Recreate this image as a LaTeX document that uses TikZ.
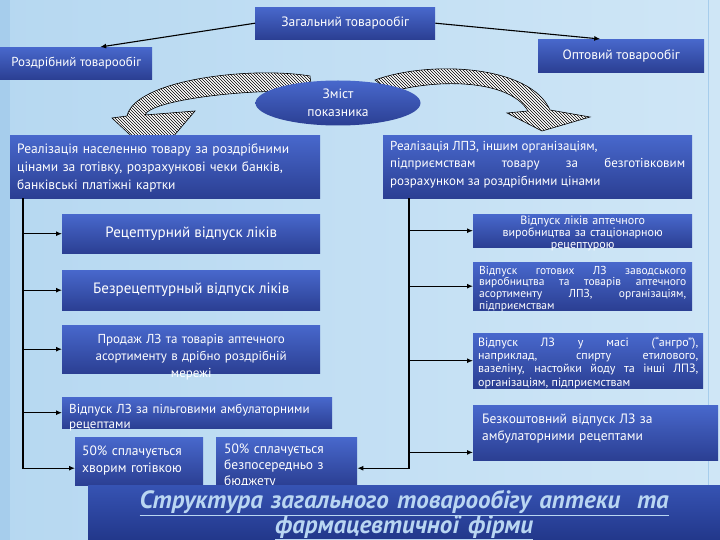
\documentclass[tikz,border=0pt]{standalone}
\usepackage{fontspec}
\setmainfont{PT Sans}
\usetikzlibrary{arrows.meta,patterns,shapes.geometric}

\definecolor{fonsvit}{HTML}{E4F2FB}
\definecolor{fonlivo}{HTML}{B6D8F1}
\definecolor{fonprav}{HTML}{CFE6F6}
\definecolor{fonsmuga}{HTML}{A6CDEC}
\definecolor{blokverh}{HTML}{4868CC}
\definecolor{bloknyz}{HTML}{2B3F93}
\definecolor{titverh}{HTML}{3653B3}
\definecolor{titnyz}{HTML}{22378A}
\definecolor{nazva}{HTML}{B9D6F2}

\tikzset{
  blok/.style={anchor=north west, inner xsep=7pt, inner ysep=0pt,
    top color=blokverh, bottom color=bloknyz, text=white},
  rozmir/.style n args={3}{text width=#1pt, text height=#2pt, text depth=#3pt},
  strilka/.style={line width=1.1pt, -{Latex[length=6pt,width=5pt]}},
  shtrykh/.style={draw=black, line width=0.6pt, preaction={fill=white},
    pattern=north west lines},
}

\begin{document}
\begin{tikzpicture}[x=1pt, y=-1pt]
  % tlo
  \useasboundingbox (0,0) rectangle (720,540);
  \shade[left color=fonlivo, middle color=fonsvit, right color=fonprav]
    (0,0) rectangle (720,540);
  \fill[fonsmuga] (0,0) rectangle (10,540);
  \draw[fonsmuga, line width=1pt] (708,0) -- (708,540);

  % zashtrykhovani strilky
  \draw[shtrykh] (310,76) .. controls (250,66) and (135,80) .. (127,116)
    -- (112,118) -- (155,158) -- (195,111) -- (145,115)
    .. controls (150,100) and (250,88) .. (312,92) -- cycle;
  \draw[shtrykh] (375,80) .. controls (430,60) and (530,65) .. (550,110)
    -- (590,117) -- (542,131) -- (507,113) -- (528,111)
    .. controls (510,80) and (440,78) .. (390,92) -- cycle;

  % verkhnij riven
  \node[blok, minimum width=180pt, minimum height=32pt,
    font=\fontsize{13.5}{16}\selectfont] (zag) at (255,7) {Загальний товарообіг};
  \node[blok, minimum width=152pt, minimum height=32pt,
    font=\fontsize{13}{16}\selectfont] (rozdr) at (0,47) {Роздрібний товарообіг};
  \node[blok, minimum width=166pt, minimum height=33pt,
    font=\fontsize{13.5}{16}\selectfont] (opt) at (538,39) {Оптовий товарообіг};
  \node[ellipse, minimum width=165pt, minimum height=45pt, inner sep=0pt,
    top color=blokverh, bottom color=bloknyz, text=white, align=center,
    font=\fontsize{13.5}{18}\selectfont] (zmist) at (338,103) {Зміст\\показника};

  % rozdribnyj
  \node[blok, rozmir={296}{18}{45}, align=left, font=\fontsize{13.5}{18}\selectfont]
    (vrozd) at (10,135) {Реалізація населенню товару за роздрібними\\
      цінами за готівку, розрахункові чеки банків,\\
      банківські платіжні картки};
  \node[blok, minimum width=258pt, minimum height=39pt,
    font=\fontsize{15}{18}\selectfont] (recept) at (62,214) {Рецептурний відпуск ліків};
  \node[blok, minimum width=258pt, minimum height=40pt,
    font=\fontsize{15}{18}\selectfont] (bezrec) at (62,270) {Безрецептурный відпуск ліків};
  \node[blok, rozmir={244}{18}{30}, align=center, font=\fontsize{13}{17}\selectfont]
    (drib) at (62,325) {Продаж ЛЗ та товарів аптечного\\
      асортименту в дрібно роздрібній\\мережі};
  \node[blok, rozmir={256}{16}{15}, align=left, font=\fontsize{13}{15}\selectfont]
    (pilg) at (62,397) {Відпуск ЛЗ за пільговими амбулаторними\\рецептами};
  \node[blok, rozmir={114}{18}{30}, align=left, font=\fontsize{13.5}{17}\selectfont]
    (hvor) at (75,437) {50\% сплачується\\хворим готівкою};
  \node[blok, inner xsep=8pt, rozmir={125}{16}{32}, align=left,
    font=\fontsize{13.5}{16}\selectfont]
    (bjudzh) at (216,437) {50\% сплачується\\безпосередньо з\\бюджету};

  % optovyj
  \node[blok, rozmir={295}{15}{48}, align=justify, font=\fontsize{13}{17.5}\selectfont]
    (vopt) at (383,135) {Реалізація ЛПЗ, іншим організаціям,\newline
      підприємствам товару за безготівковим\linebreak
      розрахунком за роздрібними цінами};
  \node[blok, rozmir={205}{10}{23}, align=center, font=\fontsize{12}{12}\selectfont]
    (stac) at (473,214) {Відпуск ліків аптечного\\
      виробництва за стаціонарною\\рецептурою};
  \node[blok, inner xsep=6pt, rozmir={207}{12}{36}, align=justify,
    font=\fontsize{11.5}{11.7}\selectfont]
    (gotov) at (473,262) {Відпуск готових ЛЗ заводського\linebreak
      виробництва та товарів аптечного\linebreak
      асортименту ЛПЗ, організаціям,\linebreak підприємствам};
  \node[blok, inner xsep=5pt, rozmir={220}{13}{42}, align=justify,
    font=\fontsize{12}{13.3}\selectfont]
    (angro) at (473,333) {Відпуск ЛЗ у масі (“ангро”),\linebreak
      наприклад, спирту етилового,\linebreak
      вазеліну, настойки йоду та інші ЛПЗ,\linebreak
      організаціям, підприємствам};
  \node[blok, inner xsep=9pt, rozmir={227}{18}{37}, align=left,
    font=\fontsize{13.5}{17}\selectfont]
    (bezkosht) at (473,405) {Безкоштовний відпуск ЛЗ за\\амбулаторними рецептами};

  % zjednannja
  \coordinate (lv) at ([xshift=13pt]vrozd.south west);
  \coordinate (pv) at ([xshift=26pt]vopt.south west);
  \coordinate (hv) at ([yshift=-7pt]hvor.west);
  \coordinate (bv) at ([yshift=-7pt]bjudzh.east);
  \coordinate (bk) at ([yshift=8pt]bezkosht.south west);
  \draw[strilka] (zag.west) -- ([xshift=24pt]rozdr.north);
  \draw[strilka] (zag.east) -- ([xshift=-21pt]opt.north);
  \draw[strilka] (lv) |- (hv);
  \foreach \n in {recept,bezrec,drib,pilg}
    \draw[strilka] (lv |- \n.west) -- (\n.west);
  \draw[strilka] (pv) |- (bv);
  \foreach \n in {stac,gotov,angro}
    \draw[strilka] (pv |- \n.west) -- (\n.west);
  \draw[strilka] (pv |- bk) -- (bk);

  % nazva
  \node[blok, inner xsep=10pt, rozmir={612}{23}{32}, align=center,
    top color=titverh, bottom color=titnyz, text=nazva,
    font=\fontsize{25}{25}\selectfont\bfseries\itshape]
    (nazva) at (88,485) {\underline{Структура загального товарообігу аптеки\ \ та}\\
      \underline{фармацевтичної фірми}};
\end{tikzpicture}
\end{document}
